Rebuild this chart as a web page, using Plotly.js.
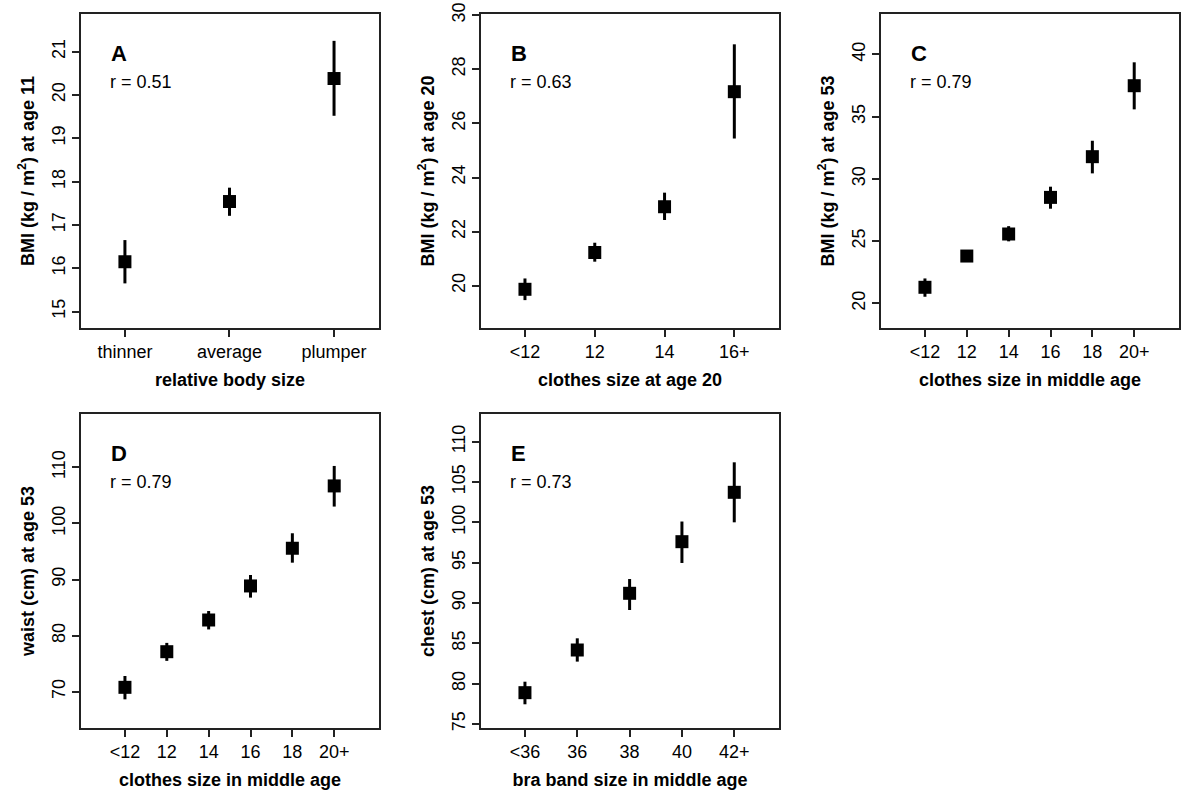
<!DOCTYPE html>
<html>
<head>
<meta charset="utf-8">
<script src="https://cdn.plot.ly/plotly-3.0.1.min.js"></script>
<style>
  html, body { margin: 0; padding: 0; background: #fff; }
  #plot { width: 1200px; height: 800px; }
</style>
</head>
<body>
<div id="plot"></div>
<script>
// panel A
const catsA = ["thinner", "average", "plumper"];
const meanA = [16.15, 17.54, 20.38];
const lowA = [15.65, 17.21, 19.52];
const highA = [16.65, 17.86, 21.25];

// panel B
const catsB = ["<12", "12", "14", "16+"];
const meanB = [19.87, 21.23, 22.92, 27.17];
const lowB = [19.47, 20.89, 22.43, 25.44];
const highB = [20.27, 21.59, 23.44, 28.92];

// panel C
const catsC = ["<12", "12", "14", "16", "18", "20+"];
const meanC = [21.29, 23.8, 25.57, 28.51, 31.78, 37.48];
const lowC = [20.53, 23.5, 24.98, 27.6, 30.44, 35.58];
const highC = [22.0, 24.1, 26.2, 29.37, 33.06, 39.36];

// panel D
const catsD = ["<12", "12", "14", "16", "18", "20+"];
const meanD = [70.78, 77.13, 82.78, 88.85, 95.57, 106.68];
const lowD = [68.64, 75.5, 81.1, 86.77, 93.0, 103.0];
const highD = [72.8, 78.7, 84.38, 90.8, 98.24, 110.24];

// panel E
const catsE = ["<36", "36", "38", "40", "42+"];
const meanE = [78.88, 84.17, 91.2, 97.6, 103.72];
const lowE = [77.44, 82.73, 89.13, 94.96, 100.0];
const highE = [80.24, 85.62, 92.97, 100.1, 107.44];

const letters = ["A", "B", "C", "D", "E"];
const rValues = ["r = 0.51", "r = 0.63", "r = 0.79", "r = 0.79", "r = 0.73"];

const xTitles = [
    "relative body size",
    "clothes size at age 20",
    "clothes size in middle age",
    "clothes size in middle age",
    "bra band size in middle age"
];
const yTitles = [
    "BMI (kg / m<sup>2</sup>) at age 11",
    "BMI (kg / m<sup>2</sup>) at age 20",
    "BMI (kg / m<sup>2</sup>) at age 53",
    "waist (cm) at age 53",
    "chest (cm) at age 53"
];
const yTicks = [
    [15, 16, 17, 18, 19, 20, 21],
    [20, 22, 24, 26, 28, 30],
    [20, 25, 30, 35, 40],
    [70, 80, 90, 100, 110],
    [75, 80, 85, 90, 95, 100, 105, 110]
];

const panels = [
    { cats: catsA, mean: meanA, low: lowA, high: highA },
    { cats: catsB, mean: meanB, low: lowB, high: highB },
    { cats: catsC, mean: meanC, low: lowC, high: highC },
    { cats: catsD, mean: meanD, low: lowD, high: highD },
    { cats: catsE, mean: meanE, low: lowE, high: highE }
];

// plot boxes in pixels (left, right, top, bottom)
const boxes = [
    [81, 379, 14, 328],
    [481, 779, 14, 328],
    [881, 1179, 14, 328],
    [81, 379, 414, 728],
    [481, 779, 414, 728]
];
const xRanges = [[-0.42, 2.43], [-0.63, 3.64], [-1.05, 6.07], [-1.05, 6.07], [-0.84, 4.855]];
const yRanges = [[14.62, 21.87], [18.44, 30.04], [18.02, 43.24], [63.53, 119.5], [74.5, 113.43]];

const W = 1200, H = 800;
const FONT = "Liberation Sans, Arial, Helvetica, sans-serif";

const traces = [];
const annotations = [];
const layout = {
    width: W,
    height: H,
    margin: { l: 0, r: 0, t: 0, b: 0 },
    paper_bgcolor: "#fff",
    plot_bgcolor: "#fff",
    showlegend: false,
    font: { family: FONT, color: "#000", size: 16 }
};

panels.forEach((p, i) => {
    const n = i + 1;
    const xa = n === 1 ? "x" : "x" + n;
    const ya = n === 1 ? "y" : "y" + n;
    const xKey = n === 1 ? "xaxis" : "xaxis" + n;
    const yKey = n === 1 ? "yaxis" : "yaxis" + n;
    const b = boxes[i];

    traces.push({
        type: "scatter",
        mode: "markers",
        x: p.cats,
        y: p.mean,
        xaxis: xa,
        yaxis: ya,
        marker: { symbol: "square", size: 13, color: "#000" },
        error_y: {
            type: "data",
            symmetric: false,
            array: p.high.map((h, k) => h - p.mean[k]),
            arrayminus: p.mean.map((m, k) => m - p.low[k]),
            thickness: 3,
            width: 0,
            color: "#000"
        },
        hoverinfo: "x+y"
    });

    layout[xKey] = {
        domain: [b[0] / W, b[1] / W],
        anchor: ya,
        type: "category",
        range: xRanges[i],
        showgrid: false,
        zeroline: false,
        showline: true,
        mirror: true,
        linecolor: "#222",
        linewidth: 1.5,
        ticks: "outside",
        ticklen: 7,
        tickwidth: 1.5,
        tickcolor: "#222",
        tickfont: { size: 18, family: FONT },
        title: {
            text: xTitles[i],
            font: { size: 18, family: FONT, weight: "bold" },
            standoff: 12
        },
        fixedrange: true
    };

    layout[yKey] = {
        domain: [1 - b[3] / H, 1 - b[2] / H],
        anchor: xa,
        range: yRanges[i],
        tickvals: yTicks[i],
        tickangle: -90,
        showgrid: false,
        zeroline: false,
        showline: true,
        mirror: true,
        linecolor: "#222",
        linewidth: 1.5,
        ticks: "outside",
        ticklen: 7,
        tickwidth: 1.5,
        tickcolor: "#222",
        tickfont: { size: 18, family: FONT },
        title: {
            text: yTitles[i],
            font: { size: 18, family: FONT, weight: "bold" },
            standoff: 10
        },
        fixedrange: true
    };

    annotations.push({
        xref: xa + " domain",
        yref: ya + " domain",
        x: 0.094,
        y: 0.873,
        xanchor: "left",
        yanchor: "middle",
        text: "<b>" + letters[i] + "</b>",
        showarrow: false,
        font: { size: 22, family: FONT }
    });
    annotations.push({
        xref: xa + " domain",
        yref: ya + " domain",
        x: 0.092,
        y: 0.783,
        xanchor: "left",
        yanchor: "middle",
        text: rValues[i],
        showarrow: false,
        font: { size: 18, family: FONT }
    });
});

layout.annotations = annotations;

Plotly.newPlot("plot", traces, layout, { displayModeBar: false });
</script>
</body>
</html>
